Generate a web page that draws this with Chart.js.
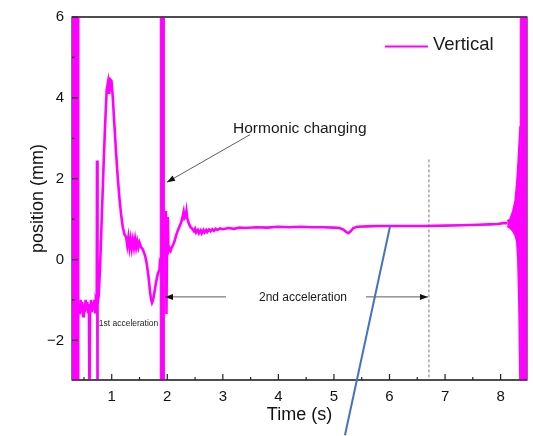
<!DOCTYPE html>
<html>
<head>
<meta charset="utf-8">
<script src="https://cdn.jsdelivr.net/npm/chart.js@4.4.1/dist/chart.umd.min.js"></script>
<style>
  html, body { margin: 0; padding: 0; background: #fff; }
  canvas { display: block; }
</style>
</head>
<body>
<canvas id="grafico-posicao" width="533" height="436"></canvas>
<script>
// eixos
const xTicks = [1, 2, 3, 4, 5, 6, 7, 8];
const xMinor = [0.5, 1.5, 2.5, 3.5, 4.5, 5.5, 6.5, 7.5];
const yTicks = [-2, 0, 2, 4, 6];
const yMinor = [-1, 1, 3, 5];

// curva principal (tempo em s, posição em mm)
const tempo = [
  0.41, 0.425, 0.44, 0.455, 0.47, 0.485, 0.50, 0.515, 0.53, 0.545, 0.56, 0.575, 0.59, 0.60, 0.61,
  0.625, 0.64, 0.655, 0.67, 0.685, 0.70, 0.715, 0.73, 0.735, 0.74, 0.75, 0.765,
  0.79, 0.82, 0.85, 0.88, 0.91, 0.935, 0.955, 0.975, 0.995, 1.02, 1.05, 1.08, 1.11, 1.14, 1.17, 1.20, 1.23,
  1.26, 1.28, 1.30, 1.32, 1.34, 1.36, 1.38, 1.40, 1.42, 1.44, 1.46, 1.48, 1.50, 1.53, 1.56,
  1.60, 1.63, 1.66, 1.69, 1.71, 1.725, 1.745, 1.77, 1.80, 1.83, 1.86, 1.87,
  1.95, 1.96, 1.975, 1.985, 1.995, 2.01, 2.02, 2.04, 2.06, 2.08, 2.10, 2.13, 2.16, 2.19, 2.22, 2.25,
  2.28, 2.295, 2.31, 2.33, 2.345, 2.36, 2.39, 2.42, 2.45, 2.48, 2.50, 2.52, 2.55, 2.57, 2.60, 2.62,
  2.65, 2.67, 2.70, 2.72, 2.75, 2.78, 2.81, 2.84, 2.87, 2.90, 2.95, 3.0, 3.1, 3.2, 3.3, 3.4, 3.6,
  3.8, 4.0, 4.2, 4.4, 4.6, 4.8, 5.0, 5.1, 5.17, 5.22, 5.26, 5.30, 5.35, 5.42, 5.6, 5.8, 6.0, 6.3,
  6.6, 7.0, 7.3, 7.6, 7.8, 7.95, 8.05, 8.12
];
const vertical = [
  -1.1, -1.35, -1.0, -1.3, -1.05, -1.4, -1.1, -1.3, -1.0, -1.25, -1.05, -1.3, -1.1, -3.6, -1.2,
  -1.0, -1.3, -1.05, -1.25, -1.0, -1.3, -1.1, -1.2, 2.45, -3.6, -1.1, -0.9,
  -0.2, 1.0, 2.2, 3.3, 4.2, 4.4, 4.1, 4.45, 4.42, 4.0, 3.3, 2.6, 2.0, 1.5, 1.1, 0.8, 0.62,
  0.55, 0.35, 0.55, 0.3, 0.5, 0.28, 0.48, 0.3, 0.5, 0.3, 0.45, 0.3, 0.42, 0.3, 0.25,
  0.1, -0.1, -0.4, -0.8, -1.0, -1.07, -1.0, -0.8, -0.55, -0.35, -0.25, 0.0,
  0.2, 0.25, 1.2, -1.35, 0.3, 1.05, 0.2, 0.28, 0.22, 0.3, 0.35, 0.45, 0.6, 0.72, 0.82, 0.92,
  1.08, 1.18, 1.02, 1.06, 1.2, 1.02, 0.88, 0.8, 0.76, 0.7, 0.76, 0.67, 0.73, 0.65, 0.72, 0.65,
  0.73, 0.67, 0.73, 0.68, 0.74, 0.7, 0.75, 0.71, 0.76, 0.73, 0.77, 0.75, 0.78, 0.76, 0.79, 0.78, 0.8,
  0.79, 0.81, 0.8, 0.81, 0.8, 0.8, 0.79, 0.78, 0.74, 0.68, 0.65, 0.7, 0.78, 0.81, 0.82, 0.83, 0.83, 0.83,
  0.83, 0.84, 0.85, 0.86, 0.87, 0.88, 0.9, 0.9
];

// envelope da oscilação no final
const tempoFim = [8.12, 8.17, 8.22, 8.26, 8.29, 8.31, 8.33, 8.35];
const envSup = [0.95, 1.0, 1.2, 1.45, 1.9, 2.3, 2.8, 3.3];
const envInf = [0.82, 0.78, 0.7, 0.6, 0.45, 0.0, -1.2, -3.3];

// faixas de oscilação forte (inicio, fim em s) e seus limites em mm
const faixas = [[0.285, 0.41], [1.87, 1.95], [8.35, 8.475]];
const faixaY = [-3.5, 6.5];

// anotações
const textos = [
  { t: 'Hormonic changing', x: 3.183, y: 3.23, size: 15.5, align: 'left' },
  { t: '2nd acceleration', x: 4.443, y: -0.948, size: 12, align: 'center' },
  { t: '1st acceleration', x: 1.302, y: -1.584, size: 8.5, align: 'center' }
];
const setas = [
  [3.489, 3.089, 1.995, 1.914],
  [3.057, -0.924, 1.959, -0.924],
  [5.576, -0.924, 6.692, -0.924]
];
const tracejada = [6.71, 2.477];
const linhaAzul = [6.008, 0.813, 5.198, -4.348];
const legenda = { x1: 5.918, x2: 6.692, y: 5.273, xt: 6.782 };

const FONTE = "'Liberation Sans', Arial, sans-serif";
const MAGENTA = '#ff00ff';

const pontos = tempo.map((t, i) => ({ x: t, y: vertical[i] }));

// cada faixa vira um retangulo fechado
const dsFaixas = faixas.map(f => ({
  data: [
    { x: f[0], y: faixaY[0] }, { x: f[0], y: faixaY[1] },
    { x: f[1], y: faixaY[1] }, { x: f[1], y: faixaY[0] }
  ],
  fill: 'shape',
  backgroundColor: MAGENTA,
  borderColor: MAGENTA,
  borderWidth: 0.5,
  pointRadius: 0
}));

function seta(ctx, x1, y1, x2, y2) {
  ctx.beginPath();
  ctx.moveTo(x1, y1);
  ctx.lineTo(x2, y2);
  ctx.stroke();
  const ang = Math.atan2(y2 - y1, x2 - x1);
  const L = 8, W = 3;
  ctx.beginPath();
  ctx.moveTo(x2, y2);
  ctx.lineTo(x2 - L * Math.cos(ang) + W * Math.sin(ang), y2 - L * Math.sin(ang) - W * Math.cos(ang));
  ctx.lineTo(x2 - L * Math.cos(ang) - W * Math.sin(ang), y2 - L * Math.sin(ang) + W * Math.cos(ang));
  ctx.closePath();
  ctx.fill();
}

const decoracao = {
  id: 'decoracao',
  beforeDatasetsDraw(chart) {
    // moldura por baixo das faixas
    const { ctx, chartArea: a } = chart;
    ctx.save();
    ctx.strokeStyle = '#222';
    ctx.lineWidth = 1.2;
    ctx.strokeRect(a.left, a.top, a.right - a.left, a.bottom - a.top);
    ctx.restore();
  },
  afterDatasetsDraw(chart) {
    const { ctx, chartArea: a, scales: { x, y } } = chart;
    ctx.save();

    // linhas de cima e de baixo ficam visíveis
    ctx.strokeStyle = '#222';
    ctx.lineWidth = 1.2;
    ctx.beginPath();
    ctx.moveTo(a.left, a.top); ctx.lineTo(a.right, a.top);
    ctx.moveTo(a.left, a.bottom); ctx.lineTo(a.right, a.bottom);
    ctx.stroke();

    // ticks para dentro
    ctx.beginPath();
    xTicks.forEach(v => { const p = x.getPixelForValue(v); ctx.moveTo(p, a.bottom); ctx.lineTo(p, a.bottom - 6); });
    xMinor.forEach(v => { const p = x.getPixelForValue(v); ctx.moveTo(p, a.bottom); ctx.lineTo(p, a.bottom - 3); });
    yTicks.forEach(v => { const p = y.getPixelForValue(v); ctx.moveTo(a.left, p); ctx.lineTo(a.left + 6, p); });
    yMinor.forEach(v => { const p = y.getPixelForValue(v); ctx.moveTo(a.left, p); ctx.lineTo(a.left + 3, p); });
    ctx.stroke();

    // linha tracejada
    ctx.strokeStyle = '#555';
    ctx.lineWidth = 0.8;
    ctx.setLineDash([3, 2]);
    ctx.beginPath();
    const xd = x.getPixelForValue(tracejada[0]);
    ctx.moveTo(xd, y.getPixelForValue(tracejada[1]));
    ctx.lineTo(xd, a.bottom);
    ctx.stroke();
    ctx.setLineDash([]);

    // setas
    ctx.strokeStyle = '#333';
    ctx.fillStyle = '#111';
    ctx.lineWidth = 0.8;
    setas.forEach(s => seta(ctx, x.getPixelForValue(s[0]), y.getPixelForValue(s[1]),
      x.getPixelForValue(s[2]), y.getPixelForValue(s[3])));

    // textos
    ctx.fillStyle = '#1a1a1a';
    ctx.textBaseline = 'middle';
    textos.forEach(n => {
      ctx.font = n.size + 'px ' + FONTE;
      ctx.textAlign = n.align;
      ctx.fillText(n.t, x.getPixelForValue(n.x), y.getPixelForValue(n.y));
    });

    // legenda
    ctx.strokeStyle = MAGENTA;
    ctx.lineWidth = 2;
    ctx.beginPath();
    const ly = y.getPixelForValue(legenda.y);
    ctx.moveTo(x.getPixelForValue(legenda.x1), ly);
    ctx.lineTo(x.getPixelForValue(legenda.x2), ly);
    ctx.stroke();
    ctx.font = '18.5px ' + FONTE;
    ctx.textAlign = 'left';
    ctx.fillText(chart.data.datasets[chart.data.datasets.length - 1].label, x.getPixelForValue(legenda.xt), ly - 1);

    // linha azul sobreposta
    ctx.strokeStyle = '#4472c4';
    ctx.lineWidth = 2;
    ctx.beginPath();
    ctx.moveTo(x.getPixelForValue(linhaAzul[0]), y.getPixelForValue(linhaAzul[1]));
    ctx.lineTo(x.getPixelForValue(linhaAzul[2]), y.getPixelForValue(linhaAzul[3]));
    ctx.stroke();

    ctx.restore();
  }
};

window.addEventListener('load', () => {
  const ctx = document.getElementById('grafico-posicao').getContext('2d');
  new Chart(ctx, {
    type: 'line',
    data: {
      datasets: [
        ...dsFaixas,
        {
          data: tempoFim.map((t, i) => ({ x: t, y: envSup[i] })),
          borderColor: MAGENTA, borderWidth: 1.5, pointRadius: 0,
          fill: '+1', backgroundColor: MAGENTA
        },
        {
          data: tempoFim.map((t, i) => ({ x: t, y: envInf[i] })),
          borderColor: MAGENTA, borderWidth: 1.5, pointRadius: 0, fill: false
        },
        {
          label: 'Vertical',
          data: pontos,
          borderColor: MAGENTA,
          borderWidth: 2.6,
          pointRadius: 0,
          fill: false,
          tension: 0
        }
      ]
    },
    options: {
      responsive: false,
      animation: false,
      layout: { padding: { top: 13, right: 6, left: 0, bottom: 0 } },
      plugins: { legend: { display: false }, tooltip: { enabled: false } },
      scales: {
        x: {
          type: 'linear',
          min: 0.285,
          max: 8.475,
          grid: { display: false, drawTicks: false },
          border: { display: false },
          afterBuildTicks: s => { s.ticks = xTicks.map(v => ({ value: v })); },
          afterFit: s => { s.height = 56; },
          ticks: { color: '#111', font: { size: 15, family: FONTE }, padding: 8, maxRotation: 0 },
          title: { display: true, text: 'Time (s)', color: '#111', font: { size: 18, family: FONTE }, padding: { bottom: 10 } }
        },
        y: {
          min: -2.98,
          max: 6,
          grid: { display: false, drawTicks: false },
          border: { display: false },
          afterBuildTicks: s => { s.ticks = yTicks.map(v => ({ value: v })); },
          afterFit: s => { s.width = 72; },
          ticks: {
            color: '#111', font: { size: 15, family: FONTE }, padding: 8,
            callback: v => (v < 0 ? '\u2212' + Math.abs(v) : String(v))
          },
          title: { display: true, text: 'position (mm)', color: '#111', font: { size: 18, family: FONTE }, padding: { top: 27 } }
        }
      }
    },
    plugins: [decoracao]
  });
});
</script>
</body>
</html>
